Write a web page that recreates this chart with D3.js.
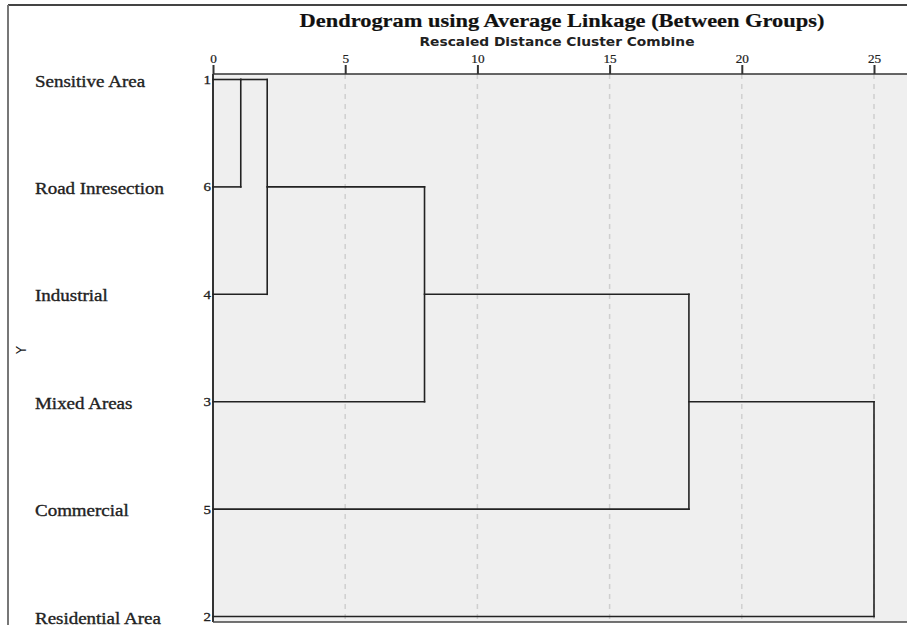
<!DOCTYPE html>
<html><head><meta charset="utf-8">
<script src="https://cdn.jsdelivr.net/npm/d3@7"></script>
<style>html,body{margin:0;padding:0;background:#fff;}svg{display:block;}</style>
</head><body>
<script>
const leafLabels = ["Sensitive Area","Road Inresection","Industrial","Mixed Areas","Commercial","Residential Area"];
const caseNumbers = [1,6,4,3,5,2];
// merges: node ids 0..5 = leaves in display order, 6.. = merged clusters
const mergeLeft  = [0, 6, 7, 8, 9];
const mergeRight = [1, 2, 3, 4, 5];
const mergeDist  = [1.05, 2.05, 8.0, 18.0, 25.0];
const tickValues = [0,5,10,15,20,25];
const titleText = "Dendrogram using Average Linkage (Between Groups)";
const subtitleText = "Rescaled Distance Cluster Combine";
const yAxisLabel = "Y";

const W = 907, H = 625;
const SX = 1.15; // horizontal text stretch of the original image
const serif = "Liberation Serif, Times New Roman, serif";
const sans = "DejaVu Sans, Verdana, sans-serif";
const svg = d3.select("body").append("svg").attr("width", W).attr("height", H);

const plotL = 213, plotT = 74, plotR = 907, plotB = 622;
const x = d3.scaleLinear().domain([0,25]).range([213, 874]);
const y = d3.scaleLinear().domain([0,5]).range([79.5, 616.5]);

// outer frame
svg.append("line").attr("x1",8).attr("x2",W).attr("y1",5).attr("y2",5).attr("stroke","#444").attr("stroke-width",2);
svg.append("line").attr("x1",8).attr("x2",8).attr("y1",5).attr("y2",H).attr("stroke","#777").attr("stroke-width",2);

// plot background
svg.append("rect").attr("x",plotL).attr("y",plotT).attr("width",plotR-plotL).attr("height",plotB-plotT).attr("fill","#efefef");

// gridlines
svg.append("g").selectAll("line").data(tickValues.filter(d=>d>0)).join("line")
  .attr("x1",d=>x(d)).attr("x2",d=>x(d)).attr("y1",plotT).attr("y2",plotB)
  .attr("stroke","#cfcfcf").attr("stroke-width",1.5).attr("stroke-dasharray","5,5");

// top axis
const axis = d3.axisTop(x).tickValues(tickValues).tickSize(9).tickFormat(d3.format("d"));
const gAx = svg.append("g").attr("transform",`translate(0,${plotT})`).call(axis);
gAx.select(".domain").attr("stroke","#333").attr("stroke-width",1.5).attr("d",`M${plotL},0H${plotR}`);
gAx.selectAll(".tick line").attr("stroke","#333").attr("stroke-width",2);
gAx.selectAll(".tick text").attr("font-family",serif).attr("font-size",11.5).attr("fill","#222")
  .attr("dy","0").attr("y",-11.5).attr("transform",`scale(${SX},1)`).attr("stroke","#222").attr("stroke-width",0.2);

// plot left & bottom border
svg.append("line").attr("x1",plotL).attr("x2",plotL).attr("y1",plotT).attr("y2",plotB).attr("stroke","#333").attr("stroke-width",2);
svg.append("line").attr("x1",plotL).attr("x2",plotR).attr("y1",plotB).attr("y2",plotB).attr("stroke","#444").attr("stroke-width",1.5);

// dendrogram
const nodePos = leafLabels.map((d,i)=>i);
const nodeDist = leafLabels.map(()=>0);
const segs = [];
mergeLeft.forEach((a,k)=>{
  const b = mergeRight[k], d = mergeDist[k];
  const pa = nodePos[a], pb = nodePos[b];
  segs.push({x1:nodeDist[a], x2:d, y1:pa, y2:pa});
  segs.push({x1:nodeDist[b], x2:d, y1:pb, y2:pb});
  segs.push({x1:d, x2:d, y1:pa, y2:pb});
  nodePos.push(Math.floor((pa+pb)/2));
  nodeDist.push(d);
});
svg.append("g").selectAll("line").data(segs).join("line")
  .attr("x1",d=>x(d.x1)).attr("x2",d=>x(d.x2)).attr("y1",d=>y(d.y1)).attr("y2",d=>y(d.y2))
  .attr("stroke","#222").attr("stroke-width",1.6).attr("stroke-linecap","square");

// leaf labels
svg.append("g").selectAll("text").data(leafLabels).join("text")
  .attr("transform",(d,i)=>`translate(35,${y(i)+7}) scale(${SX},1)`).text(d=>d)
  .attr("font-family",serif).attr("font-size",16.5).attr("fill","#222").attr("stroke","#222").attr("stroke-width",0.35);
svg.append("g").selectAll("text").data(caseNumbers).join("text")
  .attr("transform",(d,i)=>`translate(211,${y(i)+4.5}) scale(${SX},1)`).attr("text-anchor","end").text(d=>d)
  .attr("font-family",serif).attr("font-size",13).attr("fill","#222").attr("stroke","#222").attr("stroke-width",0.3);

// titles
svg.append("text").attr("transform",`translate(562,27) scale(${SX},1)`).attr("text-anchor","middle").text(titleText)
  .attr("font-family",serif).attr("font-weight","bold").attr("font-size",19.5).attr("fill","#111").attr("stroke","#111").attr("stroke-width",0.2);
svg.append("text").attr("transform",`translate(557,46) scale(${SX},1)`).attr("text-anchor","middle").text(subtitleText)
  .attr("font-family",sans).attr("font-weight","bold").attr("font-size",12).attr("fill","#222");

// y axis label
svg.append("text").attr("transform",`translate(26,350) scale(${SX},1) rotate(-90)`).attr("text-anchor","middle").text(yAxisLabel)
  .attr("font-family",sans).attr("font-size",13).attr("fill","#222");
</script>
</body></html>
